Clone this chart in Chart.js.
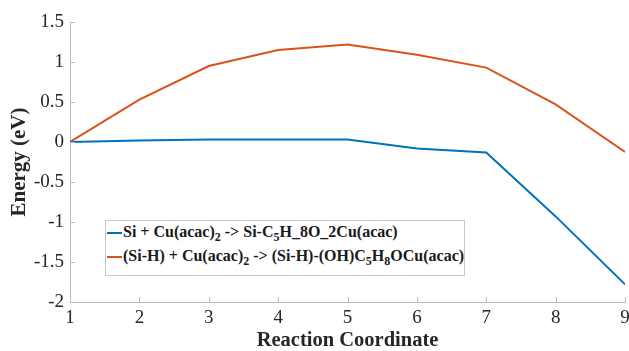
<!DOCTYPE html>
<html lang="en">
  <head>
    <meta charset="UTF-8" />
    <script src="https://cdn.jsdelivr.net/npm/chart.js"></script>
    <title>Reaction energy</title>
    <style>
      body { margin: 0; background: #fff; }
      #wrap { position: relative; width: 629px; height: 351px; }
      #legend {
        position: absolute; left: 105px; top: 220px; width: 360px; height: 56px;
        border: 1px solid #c8c8c8; background: #fff;
        font-family: "Liberation Serif", "Times New Roman", serif; font-weight: bold;
        font-size: 16px; color: #1a1a1a; box-sizing: border-box; padding: 1px 0 0 1px;
      }
      #legend .row { height: 24px; line-height: 20px; white-space: nowrap; }
      #legend .swatch { display: inline-block; width: 15px; height: 2px; margin-right: 1px; vertical-align: middle; }
      #legend sub { font-size: 12px; vertical-align: -4px; line-height: 0; }
    </style>
  </head>
  <body>
    <div id="wrap">
      <canvas id="chart"></canvas>
      <div id="legend"></div>
    </div>
  </body>
</html>
<script>
  const xValues = [1, 2, 3, 4, 5, 6, 7, 8, 9];
  const siValues = [0, 0.02, 0.03, 0.03, 0.03, -0.08, -0.13, -0.93, -1.78];
  const siHValues = [0, 0.53, 0.95, 1.15, 1.22, 1.09, 0.93, 0.47, -0.125];
  const seriesLabels = [
    "Si + Cu(acac)<sub>2</sub> -> Si-C<sub>5</sub>H_8O_2Cu(acac)",
    "(Si-H) + Cu(acac)<sub>2</sub> -> (Si-H)-(OH)C<sub>5</sub>H<sub>8</sub>OCu(acac)",
  ];
  const seriesColors = ["#0072BD", "#D95319"];
  const yTicks = [-2, -1.5, -1, -0.5, 0, 0.5, 1, 1.5];
  const yTickLabels = ["-2", "-1.5", "-1", "-0.5", "0", "0.5", "1", "1.5"];
  const xTickLabels = ["1", "2", "3", "4", "5", "6", "7", "8", "9"];

  const serif = "'Liberation Serif', 'Times New Roman', serif";
  const axisColor = "#bdbdbd";

  // small ticks pointing into the plot, like the original
  const innerTicks = {
    id: "innerTicks",
    afterDraw(chart) {
      const { ctx, chartArea, scales } = chart;
      ctx.save();
      ctx.strokeStyle = axisColor;
      ctx.lineWidth = 1;
      ctx.beginPath();
      scales.x.ticks.forEach((t) => {
        const px = Math.round(scales.x.getPixelForValue(t.value)) + 0.5;
        ctx.moveTo(px, chartArea.bottom);
        ctx.lineTo(px, chartArea.bottom - 5);
      });
      scales.y.ticks.forEach((t) => {
        const py = Math.round(scales.y.getPixelForValue(t.value)) + 0.5;
        ctx.moveTo(chartArea.left, py);
        ctx.lineTo(chartArea.left + 5, py);
      });
      ctx.stroke();
      ctx.restore();
    },
  };

  const ctx = document.getElementById("chart").getContext("2d");
  new Chart(ctx, {
    type: "line",
    data: {
      datasets: [siValues, siHValues].map((vals, i) => ({
        label: seriesLabels[i].replace(/<\/?sub>/g, ""),
        data: xValues.map((x, j) => ({ x: x, y: vals[j] })),
        borderColor: seriesColors[i],
        backgroundColor: seriesColors[i],
        borderWidth: 2,
        pointRadius: 0,
        tension: 0,
      })),
    },
    options: {
      responsive: true,
      maintainAspectRatio: false,
      animation: false,
      layout: { padding: { top: 22, right: 4, left: 0, bottom: 0 } },
      plugins: { legend: { display: false }, tooltip: { enabled: false } },
      scales: {
        x: {
          type: "linear",
          min: 1,
          max: 9,
          afterFit: (s) => {
            s.height = 49;
            s.paddingRight = 0; // let the "9" run off the edge like the original
          },
          afterBuildTicks: (s) => { s.ticks = xValues.map((v) => ({ value: v })); },
          ticks: {
            callback: (v) => xTickLabels[xValues.indexOf(v)],
            font: { family: serif, size: 19 },
            color: "#262626",
            padding: 5,
            maxRotation: 0,
          },
          grid: { drawOnChartArea: false, drawTicks: false },
          border: { color: axisColor },
          title: {
            display: true,
            text: "Reaction Coordinate",
            font: { family: serif, size: 20.5, weight: "bold" },
            color: "#262626",
            padding: { top: 0, bottom: -2 },
          },
        },
        y: {
          min: -2,
          max: 1.5,
          afterFit: (s) => { s.width = 70; },
          afterBuildTicks: (s) => { s.ticks = yTicks.map((v) => ({ value: v })); },
          ticks: {
            callback: (v) => yTickLabels[yTicks.indexOf(v)],
            font: { family: serif, size: 19 },
            color: "#262626",
            padding: 6,
          },
          grid: { drawOnChartArea: false, drawTicks: false },
          border: { color: axisColor },
          title: {
            display: true,
            text: "Energy (eV)",
            font: { family: serif, size: 21, weight: "bold" },
            color: "#262626",
            padding: { top: 7, bottom: 0 },
          },
        },
      },
    },
    plugins: [innerTicks],
  });

  // legend with subscripts, built from the series labels
  document.getElementById("legend").innerHTML = seriesLabels
    .map((l, i) => `<div class="row"><span class="swatch" style="background:${seriesColors[i]}"></span>${l}</div>`)
    .join("");
</script>
